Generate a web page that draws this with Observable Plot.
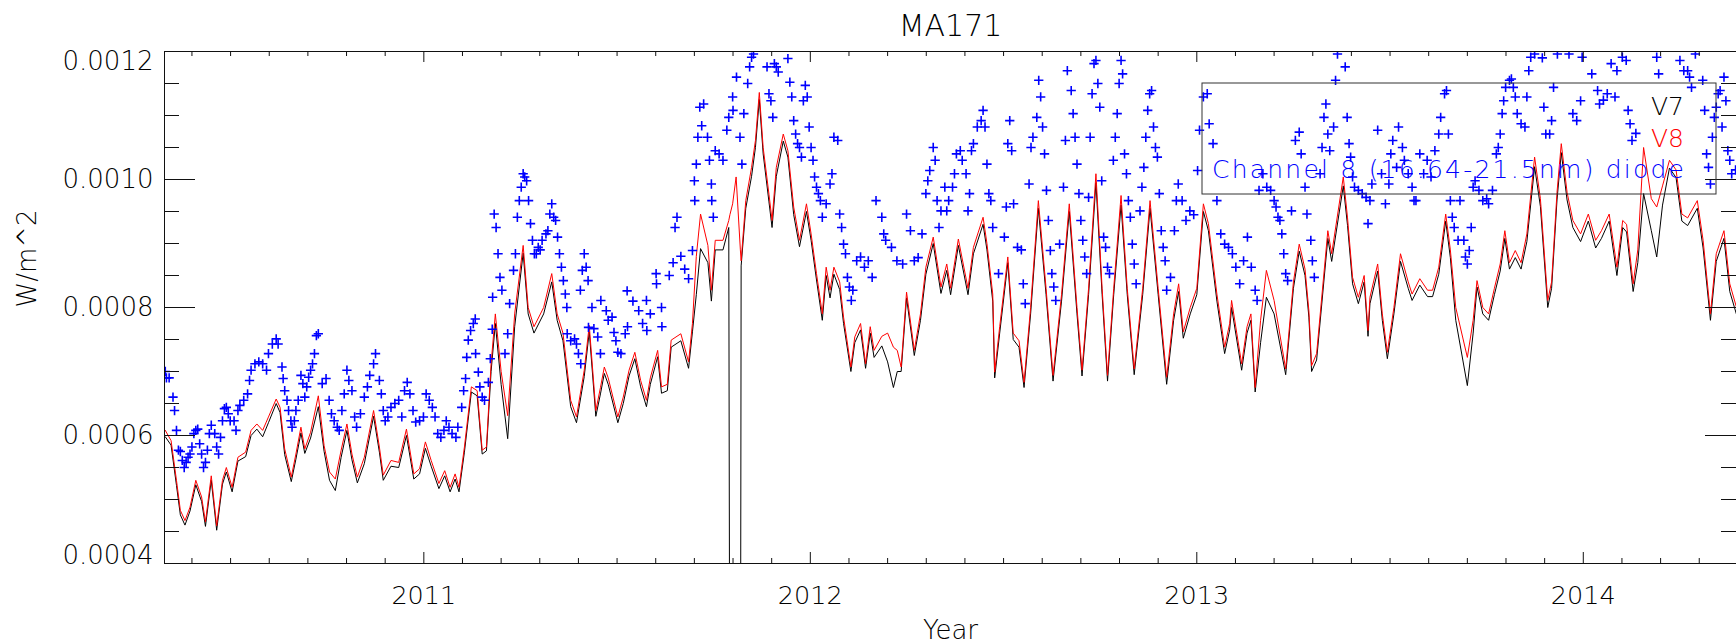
<!DOCTYPE html>
<html><head><meta charset="utf-8">
<script src="https://cdn.jsdelivr.net/npm/d3@7"></script>
<script src="https://cdn.jsdelivr.net/npm/@observablehq/plot@0.6"></script>
<style>html,body{margin:0;padding:0;background:#fff;overflow:hidden}</style>
</head><body><div id="chart"></div>
<script>
const title = "MA171";
const xLabel = "Year";
const yLabel = "W/m^2";
const legendNames = ["V7", "V8", "Channel 8 (16.64-21.5nm) diode"];
const yearTicks = [2011, 2012, 2013, 2014];
const yTickValues = [0.0004, 0.0006, 0.0008, 0.0010, 0.0012];
const yTickLabels = ["0.0004", "0.0006", "0.0008", "0.0010", "0.0012"];
const xDomain = [2010.329, 2014.3964];
const yDomain = [0.0004, 0.0012];

// line series: time (decimal year), V8 and V7 in microW/m^2
const lineT = [2010.331,2010.346,2010.360,2010.370,2010.382,2010.395,2010.410,2010.425,2010.435,2010.450,2010.464,2010.479,2010.489,2010.504,2010.519,2010.539,2010.553,2010.568,2010.583,2010.598,2010.618,2010.628,2010.640,2010.657,2010.669,2010.682,2010.692,2010.707,2010.727,2010.742,2010.756,2010.771,2010.786,2010.801,2010.814,2010.828,2010.846,2010.870,2010.885,2010.895,2010.915,2010.935,2010.955,2010.974,2010.989,2011.004,2011.019,2011.039,2011.054,2011.068,2011.081,2011.091,2011.105,2011.123,2011.138,2011.151,2011.162,2011.174,2011.185,2011.200,2011.217,2011.235,2011.257,2011.270,2011.285,2011.310,2011.331,2011.345,2011.360,2011.380,2011.395,2011.415,2011.428,2011.445,2011.457,2011.467,2011.477,2011.502,2011.516,2011.531,2011.546,2011.561,2011.576,2011.586,2011.605,2011.615,2011.630,2011.640,2011.665,2011.685,2011.695,2011.705,2011.716,2011.735,2011.744,2011.754,2011.774,2011.789,2011.792,2011.799,2011.808,2011.819,2011.821,2011.833,2011.848,2011.858,2011.868,2011.878,2011.893,2011.901,2011.912,2011.930,2011.942,2011.957,2011.972,2011.990,2012.002,2012.016,2012.031,2012.041,2012.051,2012.061,2012.076,2012.086,2012.105,2012.115,2012.130,2012.143,2012.155,2012.165,2012.185,2012.200,2012.215,2012.225,2012.235,2012.249,2012.269,2012.285,2012.299,2012.318,2012.338,2012.353,2012.363,2012.383,2012.408,2012.422,2012.447,2012.457,2012.472,2012.477,2012.490,2012.511,2012.525,2012.540,2012.553,2012.570,2012.590,2012.610,2012.628,2012.650,2012.670,2012.690,2012.703,2012.720,2012.739,2012.755,2012.769,2012.785,2012.804,2012.820,2012.838,2012.860,2012.879,2012.900,2012.922,2012.940,2012.953,2012.965,2012.983,2013.000,2013.017,2013.030,2013.052,2013.072,2013.085,2013.090,2013.116,2013.130,2013.140,2013.151,2013.165,2013.180,2013.200,2013.230,2013.250,2013.265,2013.280,2013.290,2013.297,2013.310,2013.339,2013.349,2013.379,2013.390,2013.403,2013.418,2013.433,2013.443,2013.448,2013.468,2013.480,2013.493,2013.510,2013.527,2013.547,2013.557,2013.577,2013.597,2013.610,2013.626,2013.644,2013.656,2013.670,2013.700,2013.715,2013.725,2013.740,2013.755,2013.770,2013.785,2013.797,2013.809,2013.824,2013.839,2013.854,2013.874,2013.889,2013.908,2013.918,2013.932,2013.943,2013.958,2013.973,2013.993,2014.013,2014.032,2014.047,2014.067,2014.087,2014.102,2014.112,2014.129,2014.141,2014.156,2014.176,2014.190,2014.205,2014.223,2014.240,2014.255,2014.270,2014.295,2014.310,2014.329,2014.344,2014.364,2014.379,2014.396];
const v8 = [608,592,530,483,467,488,530,504,465,537,459,530,550,519,566,574,608,618,608,629,657,644,579,535,571,613,579,605,662,584,543,532,577,618,571,535,566,639,582,538,561,558,610,540,548,590,561,525,545,519,540,519,582,676,670,577,582,712,790,700,631,790,897,800,770,800,853,790,760,655,629,702,772,639,675,707,690,629,660,702,730,686,655,690,733,676,680,749,759,715,775,880,946,897,827,905,905,936,945,962,1004,890,873,967,1019,1061,1136,1050,977,936,1019,1071,1045,957,905,962,915,853,790,863,827,863,840,785,707,754,775,712,770,733,755,760,738,733,707,824,733,790,863,910,832,868,830,907,830,894,941,900,821,699,770,879,760,748,683,800,967,830,694,820,962,800,702,830,1009,830,694,830,975,830,704,830,967,830,691,790,837,762,800,830,962,931,821,738,775,811,712,770,790,675,780,858,811,704,840,899,860,795,709,728,920,884,1004,940,847,816,850,764,816,868,790,730,800,884,840,821,845,827,827,863,946,890,800,722,780,842,800,790,830,868,920,870,889,870,915,1035,970,811,840,980,1056,980,936,915,946,905,920,946,863,936,930,837,890,1050,970,957,990,1030,1015,946,940,967,905,790,884,920,837,801];
const v7 = [598,585,522,476,460,482,523,497,458,530,452,524,543,512,560,567,600,610,598,620,650,636,570,528,563,604,572,596,645,575,530,514,566,608,562,526,556,630,574,530,552,550,600,532,540,580,552,517,537,512,532,512,574,668,662,571,576,700,775,680,595,770,885,790,760,790,840,780,748,645,620,692,762,630,665,697,680,620,650,693,720,676,645,680,723,666,670,738,748,705,762,820,892,870,810,890,890,925,0,0,0,0,865,955,1005,1050,1125,1040,965,925,1005,1060,1035,945,895,950,905,843,780,850,815,852,828,775,700,745,765,705,760,722,740,715,675,700,700,815,725,780,852,900,822,858,820,897,820,884,930,890,810,690,760,870,750,738,675,790,955,820,685,810,950,790,693,820,995,820,685,820,960,820,695,820,955,820,680,780,825,752,790,820,950,920,810,728,765,800,702,760,780,668,745,816,790,695,830,888,850,785,700,718,908,872,990,928,837,806,840,755,806,857,780,720,790,872,830,811,835,817,817,852,935,878,780,678,760,832,790,780,820,857,908,860,878,860,903,1020,958,800,830,968,1042,968,925,903,935,893,908,935,850,925,918,825,870,978,920,879,960,1018,1003,935,928,955,893,780,872,908,825,790];

// Channel 8 diode (blue crosses): time and value in microW/m^2
const diodeT = [2010.331,2010.334,2010.341,2010.351,2010.355,2010.360,2010.365,2010.370,2010.375,2010.380,2010.385,2010.390,2010.395,2010.400,2010.405,2010.410,2010.415,2010.420,2010.425,2010.430,2010.435,2010.440,2010.445,2010.450,2010.459,2010.464,2010.469,2010.474,2010.479,2010.484,2010.489,2010.494,2010.499,2010.509,2010.514,2010.519,2010.524,2010.534,2010.544,2010.549,2010.553,2010.563,2010.573,2010.583,2010.593,2010.598,2010.608,2010.618,2010.623,2010.633,2010.636,2010.640,2010.646,2010.650,2010.656,2010.659,2010.665,2010.669,2010.675,2010.682,2010.687,2010.692,2010.697,2010.702,2010.707,2010.712,2010.717,2010.722,2010.727,2010.737,2010.747,2010.755,2010.761,2010.768,2010.776,2010.781,2010.788,2010.794,2010.801,2010.806,2010.814,2010.821,2010.826,2010.836,2010.846,2010.854,2010.860,2010.870,2010.875,2010.885,2010.890,2010.895,2010.900,2010.907,2010.915,2010.925,2010.935,2010.943,2010.950,2010.957,2010.964,2010.972,2010.979,2010.989,2010.999,2011.006,2011.014,2011.022,2011.029,2011.036,2011.044,2011.052,2011.058,2011.065,2011.073,2011.083,2011.088,2011.098,2011.103,2011.108,2011.111,2011.115,2011.121,2011.128,2011.133,2011.134,2011.141,2011.145,2011.151,2011.157,2011.167,2011.172,2011.177,2011.178,2011.182,2011.187,2011.192,2011.197,2011.202,2011.210,2011.217,2011.222,2011.232,2011.237,2011.242,2011.247,2011.252,2011.257,2011.261,2011.266,2011.271,2011.276,2011.281,2011.286,2011.291,2011.296,2011.301,2011.306,2011.316,2011.321,2011.326,2011.331,2011.336,2011.341,2011.346,2011.351,2011.356,2011.361,2011.366,2011.370,2011.371,2011.380,2011.390,2011.395,2011.400,2011.405,2011.406,2011.410,2011.415,2011.420,2011.425,2011.426,2011.435,2011.440,2011.450,2011.457,2011.458,2011.472,2011.477,2011.487,2011.492,2011.497,2011.502,2011.510,2011.521,2011.526,2011.527,2011.541,2011.556,2011.566,2011.576,2011.577,2011.586,2011.601,2011.602,2011.615,2011.616,2011.635,2011.645,2011.650,2011.655,2011.665,2011.675,2011.685,2011.695,2011.700,2011.701,2011.705,2011.709,2011.714,2011.719,2011.724,2011.734,2011.739,2011.744,2011.745,2011.749,2011.754,2011.764,2011.774,2011.784,2011.789,2011.799,2011.800,2011.809,2011.818,2011.823,2011.828,2011.838,2011.843,2011.848,2011.853,2011.888,2011.893,2011.898,2011.903,2011.907,2011.912,2011.917,2011.942,2011.947,2011.952,2011.957,2011.962,2011.967,2011.972,2011.977,2011.982,2011.987,2011.992,2011.997,2012.002,2012.007,2012.011,2012.016,2012.021,2012.026,2012.031,2012.041,2012.051,2012.056,2012.061,2012.071,2012.076,2012.081,2012.086,2012.091,2012.096,2012.101,2012.106,2012.110,2012.120,2012.130,2012.140,2012.150,2012.160,2012.170,2012.185,2012.190,2012.195,2012.210,2012.224,2012.239,2012.249,2012.259,2012.269,2012.279,2012.289,2012.299,2012.304,2012.309,2012.318,2012.323,2012.328,2012.333,2012.338,2012.348,2012.353,2012.358,2012.368,2012.373,2012.378,2012.388,2012.393,2012.403,2012.408,2012.412,2012.417,2012.422,2012.432,2012.442,2012.447,2012.452,2012.457,2012.462,2012.467,2012.472,2012.487,2012.502,2012.507,2012.511,2012.516,2012.521,2012.526,2012.536,2012.546,2012.551,2012.556,2012.566,2012.571,2012.576,2012.586,2012.591,2012.596,2012.601,2012.606,2012.611,2012.616,2012.621,2012.625,2012.630,2012.635,2012.645,2012.655,2012.660,2012.665,2012.675,2012.680,2012.685,2012.690,2012.695,2012.700,2012.705,2012.710,2012.715,2012.720,2012.724,2012.729,2012.734,2012.739,2012.744,2012.749,2012.754,2012.759,2012.764,2012.769,2012.774,2012.784,2012.789,2012.794,2012.799,2012.804,2012.808,2012.813,2012.818,2012.823,2012.828,2012.833,2012.838,2012.843,2012.853,2012.858,2012.863,2012.868,2012.873,2012.878,2012.883,2012.888,2012.893,2012.898,2012.903,2012.908,2012.913,2012.918,2012.922,2012.932,2012.942,2012.947,2012.952,2012.962,2012.972,2012.982,2012.992,2013.002,2013.007,2013.017,2013.027,2013.032,2013.042,2013.052,2013.062,2013.072,2013.082,2013.092,2013.101,2013.111,2013.121,2013.131,2013.141,2013.151,2013.156,2013.161,2013.171,2013.181,2013.191,2013.200,2013.205,2013.210,2013.215,2013.220,2013.225,2013.230,2013.235,2013.245,2013.255,2013.265,2013.270,2013.280,2013.285,2013.295,2013.299,2013.304,2013.319,2013.324,2013.329,2013.334,2013.339,2013.344,2013.354,2013.359,2013.364,2013.384,2013.389,2013.394,2013.398,2013.403,2013.408,2013.418,2013.428,2013.438,2013.443,2013.448,2013.453,2013.468,2013.478,2013.488,2013.497,2013.502,2013.507,2013.517,2013.522,2013.532,2013.537,2013.547,2013.557,2013.562,2013.567,2013.577,2013.587,2013.596,2013.606,2013.616,2013.626,2013.631,2013.641,2013.646,2013.651,2013.656,2013.661,2013.666,2013.676,2013.681,2013.691,2013.695,2013.700,2013.705,2013.710,2013.715,2013.720,2013.730,2013.740,2013.750,2013.755,2013.765,2013.775,2013.780,2013.785,2013.790,2013.794,2013.799,2013.809,2013.814,2013.819,2013.824,2013.829,2013.839,2013.849,2013.854,2013.859,2013.864,2013.874,2013.894,2013.898,2013.903,2013.913,2013.918,2013.923,2013.933,2013.963,2013.973,2013.983,2013.993,2013.997,2014.022,2014.037,2014.042,2014.052,2014.062,2014.072,2014.082,2014.087,2014.101,2014.111,2014.116,2014.121,2014.126,2014.136,2014.190,2014.195,2014.250,2014.260,2014.270,2014.275,2014.280,2014.290,2014.309,2014.314,2014.319,2014.324,2014.329,2014.334,2014.339,2014.344,2014.349,2014.354,2014.359,2014.364,2014.369,2014.374,2014.379,2014.384,2014.394];
const diodeV = [700,690,690,660,639,608,577,575,561,550,558,566,571,582,603,608,610,587,571,550,558,577,603,616,603,582,571,597,623,642,644,634,623,623,608,639,647,655,665,686,702,712,715,712,702,728,743,751,743,707,689,670,655,639,623,613,623,639,655,694,681,660,676,691,702,712,728,756,759,681,689,655,634,623,613,608,639,665,702,686,670,629,613,634,660,676,694,712,728,686,665,639,623,629,644,650,655,629,670,683,665,639,621,623,629,665,655,644,629,603,597,608,623,613,603,597,613,644,670,689,722,749,764,775,782,728,699,676,660,655,683,720,766,816,946,925,884,847,827,728,759,806,858,884,941,967,988,1009,1004,998,967,931,905,884,884,894,890,905,915,920,946,962,941,936,910,884,863,842,821,800,759,748,751,743,728,827,712,858,884,863,842,769,800,767,754,728,811,795,780,785,761,748,730,728,759,826,770,810,795,775,811,764,790,853,837,800,770,850,870,925,941,880,860,845,889,998,967,1024,1066,1113,1084,1118,1066,1030,993,967,941,1045,1040,1030,1077,1097,1129,1108,1160,1066,1024,1103,1150,1176,1191,1196,1176,1134,1123,1097,1181,1176,1168,1189,1152,1129,1092,1071,1056,1050,1035,1123,1147,1129,1082,1050,1030,1004,988,978,967,941,962,993,1009,1066,1061,946,925,899,884,847,832,811,827,873,879,863,873,847,967,941,915,905,894,873,868,946,920,873,878,915,978,998,1014,1050,1030,967,925,951,988,951,967,988,1009,1040,1045,1030,1009,951,978,1045,1056,1082,1092,1108,1082,1024,978,967,925,853,910,957,1056,1092,1045,962,894,890,837,806,993,1050,1066,1097,1155,1129,1082,1040,983,936,889,853,832,811,899,988,1061,1170,1139,1103,1066,1024,978,936,905,879,853,972,1066,1134,1181,1186,1150,1113,998,910,894,863,853,1030,1066,1103,1150,1186,1165,1040,1009,967,941,899,868,837,951,988,1019,1066,1108,1134,1139,1082,1050,1035,978,920,894,873,827,847,920,967,993,967,936,951,945,1014,1077,1129,1134,1087,1056,967,915,899,894,884,863,837,873,910,863,827,811,983,1009,988,983,967,957,941,936,915,884,853,842,951,1061,1074,1040,988,946,905,873,847,1009,1050,1097,1118,1071,1045,1082,1155,1196,1176,1097,1056,1035,1004,988,983,978,972,931,967,993,1077,1009,962,993,1040,1061,1019,1082,1050,1030,1009,988,967,967,1040,1009,1030,1004,1045,1071,1097,1134,1139,1071,967,941,925,905,967,905,879,868,889,925,988,998,983,967,970,962,983,1040,1050,1071,1103,1123,1144,1155,1157,1144,1129,1103,1087,1082,1129,1170,1191,1196,1190,1113,1071,1071,1092,1144,1196,1196,1103,1092,1123,1191,1165,1139,1118,1124,1134,1181,1129,1170,1191,1186,1108,1087,1061,1072,1191,1165,1186,1170,1170,1160,1144,1196,1155,1108,1040,1019,993,1066,1097,1113,1134,1139,1082,1160,1123,1045,1030,1009,1015];

const lines = lineT.map((t, i) => ({t, v7: v7[i] * 1e-6, v8: v8[i] * 1e-6}));
const diode = diodeT.map((t, i) => ({t, v: diodeV[i] * 1e-6}));

const W = 1736, H = 644, mL = 164, mR = 0, mT = 51, mB = 81;
const innerW = W - mL - mR, innerH = H - mT - mB;
const xMinor = d3.range(2010.4, 2014.4, 0.1).map(d => Math.round(d * 10) / 10).filter(d => !yearTicks.includes(d));
const yMinor = d3.range(0.00045, 0.00120, 0.00005).map(d => +d.toFixed(5)).filter(d => !yTickValues.some(v => Math.abs(v - d) < 1e-9));
const yTicksData = yTickValues.map((v, i) => ({v, label: yTickLabels[i]}));
const font = "DejaVu Sans";
const txt = "#000";

const chart = Plot.plot({
  width: W, height: H,
  marginLeft: mL, marginRight: mR, marginTop: mT, marginBottom: mB,
  style: {fontFamily: font, fontWeight: 200, background: "#fff", overflow: "visible"},
  x: {domain: xDomain, axis: null},
  y: {domain: yDomain, axis: null},
  marks: [
    Plot.line(lines, {x: "t", y: "v7", stroke: "#000", strokeWidth: 1, clip: true}),
    Plot.line(lines, {x: "t", y: "v8", stroke: "#ff0000", strokeWidth: 1, clip: true}),
    Plot.dot(diode, {x: "t", y: "v", symbol: "plus", r: 3.1, stroke: "#0000ff", fill: "none", strokeWidth: 1.6, clip: true}),
    Plot.frame({stroke: "#111", strokeWidth: 1}),
    // bottom / top ticks (inward)
    Plot.tickX(yearTicks, {x: d => d, insetTop: innerH - 11, stroke: "#111"}),
    Plot.tickX(xMinor, {x: d => d, insetTop: innerH - 5, stroke: "#111"}),
    Plot.tickX(yearTicks, {x: d => d, insetBottom: innerH - 11, stroke: "#111"}),
    Plot.tickX(xMinor, {x: d => d, insetBottom: innerH - 5, stroke: "#111"}),
    // left / right ticks (inward)
    Plot.tickY(yTickValues, {y: d => d, insetRight: innerW - 31, stroke: "#111"}),
    Plot.tickY(yMinor, {y: d => d, insetRight: innerW - 15, stroke: "#111"}),
    Plot.tickY(yTickValues, {y: d => d, insetLeft: innerW - 31, stroke: "#111"}),
    Plot.tickY(yMinor, {y: d => d, insetLeft: innerW - 15, stroke: "#111"}),
    // tick labels
    Plot.text(yearTicks, {x: d => d, text: d => String(d), frameAnchor: "bottom", dy: 22, lineAnchor: "top", fontSize: 25.5, fill: txt}),
    Plot.text(yTicksData.slice(1, -1), {y: "v", text: "label", frameAnchor: "left", dx: -11, textAnchor: "end", fontSize: 26, fill: txt}),
    Plot.text(yTicksData.slice(-1), {y: "v", text: "label", frameAnchor: "left", dx: -11, textAnchor: "end", lineAnchor: "top", fontSize: 26, fill: txt}),
    Plot.text(yTicksData.slice(0, 1), {y: "v", text: "label", frameAnchor: "left", dx: -11, textAnchor: "end", lineAnchor: "bottom", fontSize: 26, fill: txt}),
    // titles
    Plot.text([title], {frameAnchor: "top", dy: -16, lineAnchor: "bottom", fontSize: 30, fill: txt}),
    Plot.text([xLabel], {frameAnchor: "bottom", dy: 75, lineAnchor: "bottom", fontSize: 26, fill: txt}),
    Plot.text([yLabel], {frameAnchor: "left", dx: -137, rotate: -90, fontSize: 26, fill: txt})
  ]
});

// legend box (IDL-style, inside the plot area, top right)
const svg = d3.select(chart);
const lg = svg.append("g").attr("font-family", font).attr("font-weight", 200).attr("text-anchor", "end");
lg.append("rect").attr("x", 1202).attr("y", 83).attr("width", 514).attr("height", 111)
  .attr("fill", "none").attr("stroke", "#333").attr("stroke-width", 1);
const legendColors = ["#000", "#ff0000", "#0000ff"];
const legendBase = [115, 146.5, 178];
legendNames.forEach((name, i) => {
  const t = lg.append("text").attr("x", 1684).attr("y", legendBase[i]).attr("font-size", 25)
    .attr("fill", legendColors[i]).text(name);
  if (i === 2) t.attr("textLength", 472).attr("lengthAdjust", "spacing");
});

document.getElementById("chart").appendChild(chart);
</script>
</body></html>
